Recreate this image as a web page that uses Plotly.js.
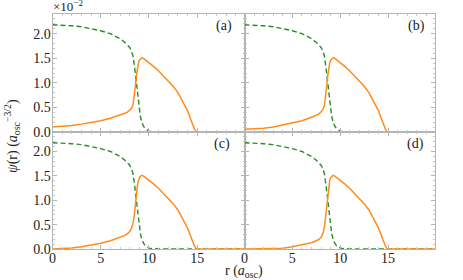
<!DOCTYPE html>
<html>
<head>
<meta charset="utf-8">
<script src="https://cdn.plot.ly/plotly-3.0.1.min.js"></script>
<style>html,body{margin:0;padding:0;background:#fff;}#chart{width:463px;height:280px;}</style>
</head>
<body>
<div id="chart"></div>
<script>
// Radial grid for the condensate (dashed green) density
const rGreen = [0,1,2,3,4,5,6,6.6,7,7.5,8,8.2,8.35,8.5,8.6,8.7,8.8,8.9,9.0,9.1,9.2,9.4,9.6,9.8,10,10.4,11,12,14,16,18,19.9];
const psiGreen = [2.18,2.175,2.16,2.14,2.105,2.06,2.0,1.94,1.90,1.82,1.72,1.64,1.54,1.33,1.17,0.98,0.77,0.58,0.44,0.33,0.24,0.13,0.07,0.035,0.018,0.005,0,0,0,0,0,0];

// Radial grid for the orange (solid) density
const rOrange = [0,1,2,3,3.5,4,5,6,7,7.5,7.8,8.0,8.2,8.35,8.5,8.6,8.7,8.8,8.9,9.0,9.1,9.25,9.4,9.6,10,10.5,11,11.5,12,12.5,13,13.5,13.8,14,14.3,14.5,14.7,14.85,15,16,18,19.9];
const psiOrangeA = [0.10,0.11,0.13,0.16,0.175,0.19,0.23,0.28,0.34,0.38,0.41,0.44,0.48,0.56,0.75,0.95,1.15,1.30,1.40,1.46,1.49,1.51,1.50,1.47,1.41,1.33,1.24,1.14,1.04,0.93,0.80,0.63,0.52,0.43,0.27,0.16,0.07,0.02,0,0,0,0];
const psiOrangeB = [0.055,0.06,0.075,0.10,0.12,0.14,0.18,0.23,0.30,0.34,0.37,0.41,0.46,0.54,0.74,0.95,1.15,1.30,1.40,1.46,1.49,1.51,1.50,1.47,1.41,1.33,1.24,1.14,1.04,0.93,0.80,0.63,0.52,0.43,0.27,0.16,0.07,0.02,0,0,0,0];
const psiOrangeC = [0.0,0.005,0.02,0.045,0.06,0.08,0.12,0.17,0.24,0.28,0.32,0.36,0.43,0.53,0.73,0.94,1.15,1.30,1.40,1.46,1.49,1.51,1.50,1.47,1.41,1.33,1.24,1.14,1.04,0.93,0.80,0.63,0.52,0.43,0.27,0.16,0.07,0.02,0,0,0,0];
const psiOrangeD = [0,0,0,0,0.005,0.015,0.045,0.085,0.13,0.17,0.20,0.24,0.32,0.45,0.70,0.92,1.13,1.29,1.40,1.46,1.49,1.51,1.50,1.47,1.41,1.33,1.24,1.14,1.04,0.93,0.80,0.63,0.52,0.43,0.27,0.16,0.07,0.02,0,0,0,0];

const panelLabels = ['(a)','(b)','(c)','(d)'];
const xTicks = [0,5,10,15];
const yTicks = [0,0.5,1.0,1.5,2.0];

const orangeSets = [psiOrangeA, psiOrangeB, psiOrangeC, psiOrangeD];
const GREEN = '#2b8a2b';
const ORANGE = '#ff8c1a';

const W = 463, H = 280;
const xL = [52.5/W, 244.5/W], xR = [244.5/W, 435/W];
const yT = [(H-132)/H, (H-14)/H], yB = [(H-249)/H, (H-132)/H];
const doms = [[xL,yT],[xR,yT],[xL,yB],[xR,yB]];

const FAM = '"Liberation Serif", "Times New Roman", serif';
const fontF = {family: FAM, size: 14, color: '#222'};

const traces = [];
const layout = {
  width: W, height: H,
  margin: {l:0,r:0,t:0,b:0},
  paper_bgcolor: '#fff', plot_bgcolor: '#fff',
  showlegend: false,
  font: fontF,
  annotations: []
};

for (let i = 0; i < 4; i++) {
  const sfx = i === 0 ? '' : String(i+1);
  traces.push({x: rGreen, y: psiGreen, xaxis: 'x'+sfx, yaxis: 'y'+sfx, mode: 'lines',
    line: {color: GREEN, width: 1.4, dash: '5px,3px'}, hoverinfo: 'skip'});
  traces.push({x: rOrange, y: orangeSets[i], xaxis: 'x'+sfx, yaxis: 'y'+sfx, mode: 'lines',
    line: {color: ORANGE, width: 1.5}, hoverinfo: 'skip'});
  const isLeft = (i % 2 === 0), isBottom = (i >= 2);
  const common = {showline: true, linecolor: '#b5b5b5', linewidth: 1, mirror: 'ticks',
    ticks: 'inside', ticklen: 4, tickcolor: '#b5b5b5', tickwidth: 1,
    showgrid: false, zeroline: false, tickfont: fontF, fixedrange: true};
  layout['xaxis'+sfx] = Object.assign({}, common, {
    domain: doms[i][0], range: [0, 19.9], anchor: 'y'+sfx,
    tickmode: 'array', tickvals: xTicks, ticktext: xTicks.map(String),
    showticklabels: isBottom, ticklabelstandoff: -4,
    minor: {dtick: 1, ticks: 'inside', ticklen: 2, tickcolor: '#c8c8c8', showgrid: false}
  });
  layout['yaxis'+sfx] = Object.assign({}, common, {
    domain: doms[i][1], range: [0, 2.4], anchor: 'x'+sfx,
    tickmode: 'array', tickvals: yTicks, ticktext: yTicks.map(v => v.toFixed(1)),
    showticklabels: isLeft, ticklabelstandoff: -2,
    minor: {dtick: 0.1, ticks: 'inside', ticklen: 2, tickcolor: '#c8c8c8', showgrid: false}
  });
}

const labelPos = [[224,26],[416.5,26],[222,143.5],[415,144]];
labelPos.forEach((p, i) => {
  layout.annotations.push({xref:'paper', yref:'paper', x: p[0]/W, y: 1 - p[1]/H,
    xanchor:'center', yanchor:'middle', showarrow:false, text: panelLabels[i], font: fontF});
});
layout.annotations.push({xref:'paper', yref:'paper', x: 51/W, y: 1 - 16/H, xanchor:'left', yanchor:'bottom',
  showarrow:false, text:'×10<sup>−2</sup>', font: {family: FAM, size: 13, color: '#222'}});
layout.annotations.push({xref:'paper', yref:'paper', x: 12/W, y: 1 - 136/H, xanchor:'center', yanchor:'middle',
  showarrow:false, textangle:-90, text:'<i>ψ</i>(r) (<i>a</i><sub>osc</sub><sup>−3/2</sup>)', font: fontF});
layout.annotations.push({xref:'paper', yref:'paper', x: 244/W, y: 1 - 271/H, xanchor:'center', yanchor:'middle',
  showarrow:false, text:'r (<i>a</i><sub>osc</sub>)', font: fontF});

Plotly.newPlot('chart', traces, layout, {staticPlot: true, displayModeBar: false});
</script>
</body>
</html>
